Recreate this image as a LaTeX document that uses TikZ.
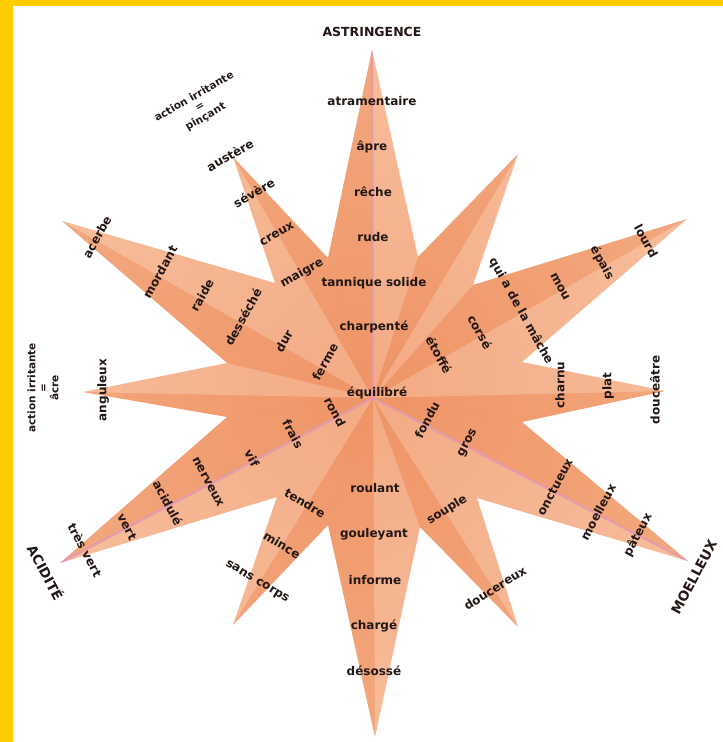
\documentclass[tikz,border=0pt]{standalone}
\usepackage{fontspec}
\setmainfont{DejaVu Sans}
\definecolor{txt}{HTML}{231815}
\definecolor{ylw}{HTML}{FFCC00}
\definecolor{pinkln}{HTML}{E39AAE}
\definecolor{starin}{HTML}{F29B6E}
\definecolor{starout}{HTML}{FAC6A2}
\definecolor{shadedk}{HTML}{D8602C}
\begin{document}
\begin{tikzpicture}[x=1pt,y=-1pt,
  lbl/.style={font=\fontsize{12}{13}\selectfont\bfseries, text=txt, inner sep=0pt},
  titlecap/.style={font=\fontsize{12.5}{14}\selectfont\bfseries, text=txt, inner sep=0pt},
  bigcap/.style={font=\fontsize{13.5}{15}\selectfont\bfseries, text=txt, inner sep=0pt},
  note/.style={font=\fontsize{10.5}{11.5}\selectfont\bfseries, text=txt, inner sep=0pt, align=center},
  dk/.style={fill=shadedk, fill opacity=0.10},
  lt/.style={fill=white, fill opacity=0.16},
  axisln/.style={draw=pinkln, line width=2.4pt, opacity=0.85}]
\useasboundingbox (0,0) rectangle (723,742);
\fill[white] (0,0) rectangle (723,742);
\fill[ylw] (0,0) rectangle (13,742);
\fill[ylw] (0,0) rectangle (723,6);

% centre, tips and valleys
\coordinate (C) at (373,398);
\coordinate (tN) at (372,50);
\coordinate (tNNE) at (518,154);
\coordinate (tENE) at (687,219);
\coordinate (tE) at (665,391);
\coordinate (tSE) at (688,561);
\coordinate (tSSE) at (518,627);
\coordinate (tS) at (375,737);
\coordinate (tSSW) at (233,625);
\coordinate (tSW) at (60,563);
\coordinate (tW) at (83,392);
\coordinate (tNW) at (62,221);
\coordinate (tNNW) at (233,157);
\coordinate (v1) at (418,257);
\coordinate (v2) at (473,285);
\coordinate (v3) at (522,362);
\coordinate (v4) at (522,422);
\coordinate (v5) at (477,498);
\coordinate (v6) at (420,527);
\coordinate (v7) at (328,525);
\coordinate (v8) at (277,497);
\coordinate (v9) at (227,417);
\coordinate (v10) at (227,363);
\coordinate (v11) at (275,283);
\coordinate (v12) at (328,258);

\begin{scope}
\clip (tN) -- (v1) -- (tNNE) -- (v2) -- (tENE) -- (v3) -- (tE) -- (v4) -- (tSE) -- (v5)
  -- (tSSE) -- (v6) -- (tS) -- (v7) -- (tSSW) -- (v8) -- (tSW) -- (v9) -- (tW) -- (v10)
  -- (tNW) -- (v11) -- (tNNW) -- (v12) -- cycle;
\shade[inner color=starin, outer color=starout] (C) circle[radius=700pt];
\fill[dk] (C) -- (v12) -- (tN) -- cycle;
\fill[lt] (C) -- (tN) -- (v1) -- cycle;
\fill[dk] (C) -- (v1) -- (tNNE) -- cycle;
\fill[lt] (C) -- (tNNE) -- (v2) -- cycle;
\fill[dk] (C) -- (v2) -- (tENE) -- cycle;
\fill[lt] (C) -- (tENE) -- (v3) -- cycle;
\fill[lt] (C) -- (v3) -- (tE) -- cycle;
\fill[dk] (C) -- (tE) -- (v4) -- cycle;
\fill[dk] (C) -- (v4) -- (tSE) -- cycle;
\fill[lt] (C) -- (tSE) -- (v5) -- cycle;
\fill[lt] (C) -- (v5) -- (tSSE) -- cycle;
\fill[dk] (C) -- (tSSE) -- (v6) -- cycle;
\fill[lt] (C) -- (v6) -- (tS) -- cycle;
\fill[dk] (C) -- (tS) -- (v7) -- cycle;
\fill[dk] (C) -- (v7) -- (tSSW) -- cycle;
\fill[lt] (C) -- (tSSW) -- (v8) -- cycle;
\fill[lt] (C) -- (v8) -- (tSW) -- cycle;
\fill[dk] (C) -- (tSW) -- (v9) -- cycle;
\fill[dk] (C) -- (v9) -- (tW) -- cycle;
\fill[lt] (C) -- (tW) -- (v10) -- cycle;
\fill[dk] (C) -- (v10) -- (tNW) -- cycle;
\fill[lt] (C) -- (tNW) -- (v11) -- cycle;
\fill[lt] (C) -- (v11) -- (tNNW) -- cycle;
\fill[dk] (C) -- (tNNW) -- (v12) -- cycle;
\path[axisln] (C) -- (tN);
\path[axisln] (C) -- (tSW);
\path[axisln] (C) -- (tSE);
\end{scope}

% axis titles
\node[titlecap] (astr) at (372,32) {ASTRINGENCE};
\node[bigcap, rotate=62] (moel) at (694,577) {MOELLEUX};
\node[bigcap, rotate=-62] (acid) at (46,572) {ACIDITÉ};
\node[note, rotate=30] (pinc) at (200,107) {action irritante\\=\\pinçant};
\node[note, rotate=90] (acre) at (43,388) {action irritante\\=\\âcre};

% north
\node[lbl] (n1) at (372,101) {atramentaire};
\node[lbl] (n2) at (372,147) {âpre};
\node[lbl] (n3) at (373,192) {rêche};
\node[lbl] (n4) at (373,237) {rude};
\node[lbl] (n5) at (374,283) {tannique solide};
\node[lbl] (n6) at (374,327) {charpenté};
\node[lbl] (n7) at (377,393) {équilibré};
% north-north-west
\node[lbl, rotate=30] (nnw1) at (230,155) {austère};
\node[lbl, rotate=30] (nnw2) at (254,193) {sévère};
\node[lbl, rotate=30] (nnw3) at (277,234) {creux};
\node[lbl, rotate=30] (nnw4) at (302,273) {maigre};
% north-west
\node[lbl, rotate=61] (nw1) at (97,237) {acerbe};
\node[lbl, rotate=61] (nw2) at (160,272) {mordant};
\node[lbl, rotate=61] (nw3) at (202,295) {raide};
\node[lbl, rotate=61] (nw4) at (243,317) {desséché};
\node[lbl, rotate=61] (nw5) at (284,341) {dur};
\node[lbl, rotate=61] (nw6) at (325,362) {ferme};
% west
\node[lbl, rotate=90] (w1) at (103,390) {anguleux};
% east-north-east
\node[lbl, rotate=-61] (ene1) at (439,355) {étoffé};
\node[lbl, rotate=-61] (ene2) at (480,332) {corsé};
\node[lbl, rotate=-61] (ene3) at (521,311) {qui a de la mâche};
\node[lbl, rotate=-61] (ene4) at (560,287) {mou};
\node[lbl, rotate=-61] (ene5) at (602,263) {épais};
\node[lbl, rotate=-61] (ene6) at (646,241) {lourd};
% east
\node[lbl, rotate=90] (e1) at (560,385) {charnu};
\node[lbl, rotate=90] (e2) at (608,386) {plat};
\node[lbl, rotate=90] (e3) at (655,390) {douceâtre};
% south-east
\node[lbl, rotate=62] (se1) at (427,420) {fondu};
\node[lbl, rotate=62] (se2) at (468,443) {gros};
\node[lbl, rotate=62] (se3) at (555,487) {onctueux};
\node[lbl, rotate=62] (se4) at (598,512) {moelleux};
\node[lbl, rotate=62] (se5) at (638,535) {pâteux};
% south-south-east
\node[lbl, rotate=32] (sse1) at (447,510) {souple};
\node[lbl, rotate=32] (sse2) at (495,588) {doucereux};
% south
\node[lbl] (s1) at (375,488) {roulant};
\node[lbl] (s2) at (374,534) {gouleyant};
\node[lbl] (s3) at (375,580) {informe};
\node[lbl] (s4) at (374,626) {chargé};
\node[lbl] (s5) at (374,671) {désossé};
% south-south-west
\node[lbl, rotate=-31] (ssw1) at (305,503) {tendre};
\node[lbl, rotate=-31] (ssw2) at (282,545) {mince};
\node[lbl, rotate=-31] (ssw3) at (257,582) {sans corps};
% south-west
\node[lbl, rotate=-62] (sw1) at (335,412) {rond};
\node[lbl, rotate=-62] (sw2) at (293,434) {frais};
\node[lbl, rotate=-62] (sw3) at (252,458) {vif};
\node[lbl, rotate=-62] (sw4) at (208,482) {nerveux};
\node[lbl, rotate=-62] (sw5) at (168,503) {acidulé};
\node[lbl, rotate=-62] (sw6) at (127,527) {vert};
\node[lbl, rotate=-62] (sw7) at (85,550) {très vert};
\end{tikzpicture}
\end{document}
